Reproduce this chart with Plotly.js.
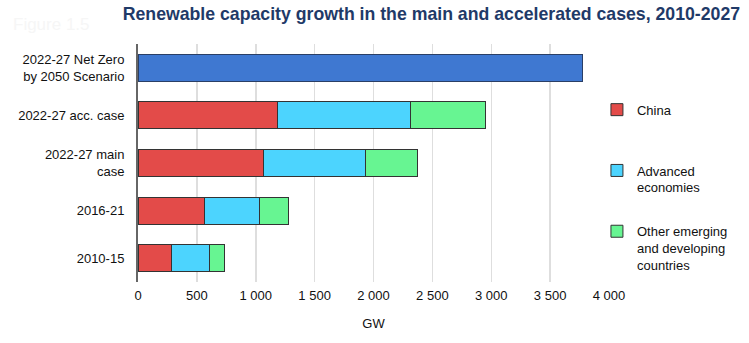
<!DOCTYPE html>
<html><head><meta charset="utf-8">
<script src="https://cdn.plot.ly/plotly-3.0.1.min.js"></script>
<style>body{margin:0;background:#fff}#chart{width:749px;height:343px}</style>
</head><body><div id="chart"></div>
<script>
const categories = ["2010-15", "2016-21", "2022-27 main<br>case", "2022-27 acc. case", "2022-27 Net Zero<br>by 2050 Scenario"];
const chinaValues = [286, 563, 1070, 1186, null];
const advancedValues = [323, 473, 864, 1130, null];
const otherValues = [124, 246, 441, 634, null];
const netZeroValues = [null, null, null, null, 3774];
const xTicks = [0, 500, 1000, 1500, 2000, 2500, 3000, 3500, 4000];

const line = {color: '#333333', width: 1};
const traces = [
  {type:'bar', orientation:'h', y:categories, x:chinaValues, name:'China<br>&nbsp;', legendgroup:'a',
   marker:{color:'#e34b49', line:line}},
  {type:'bar', orientation:'h', y:categories, x:advancedValues, name:'Advanced<br>economies', legendgroup:'b',
   marker:{color:'#4cd4fe', line:line}},
  {type:'bar', orientation:'h', y:categories, x:otherValues, name:'Other emerging<br>and developing<br>countries', legendgroup:'c',
   marker:{color:'#67f592', line:line}},
  {type:'bar', orientation:'h', y:categories, x:netZeroValues, name:'Net Zero', showlegend:false,
   marker:{color:'#3f78d1', line:{color:'#2a3f66', width:1}}}
];
const layout = {
  width:749, height:343, barmode:'stack', bargap:0.43,
  separators:'. ',
  font:{family:'Liberation Sans, Arial, sans-serif', size:13, color:'#111'},
  paper_bgcolor:'#fff', plot_bgcolor:'#fff',
  margin:{l:138, r:140, t:44, b:61, autoexpand:false},
  title:{text:'<b>Renewable capacity growth in the main and accelerated cases, 2010-2027</b>',
    font:{size:17.7, color:'#1f3a68', family:'Liberation Sans, Arial, sans-serif'}, x:0.576, xanchor:'center', y:0.96, yanchor:'middle'},
  xaxis:{range:[0,4000], tickvals:xTicks, tickformat:',d', showgrid:true, gridcolor:'#dedede', gridwidth:1.5,
    zeroline:false, showline:false, ticks:'', ticklabelstandoff:4, tickfont:{size:13},
    title:{text:'GW', font:{size:13}, standoff:16}},
  yaxis:{showline:true, linecolor:'#666', linewidth:2, ticks:'', ticklabelstandoff:9, showgrid:false, tickfont:{size:13}},
  legend:{x:0.797, xref:'container', xanchor:'left', y:0.787, yanchor:'top', tracegroupgap:24, font:{size:13},
    itemwidth:30, valign:'top', bgcolor:'rgba(0,0,0,0)'},
  annotations:[{text:'Figure 1.5', xref:'paper', yref:'paper', x:-0.27, y:1.13, xanchor:'left', showarrow:false,
    font:{size:17, color:'#f6f6f6'}}]
};
Plotly.newPlot('chart', traces, layout, {displayModeBar:false, staticPlot:true});
</script></body></html>
